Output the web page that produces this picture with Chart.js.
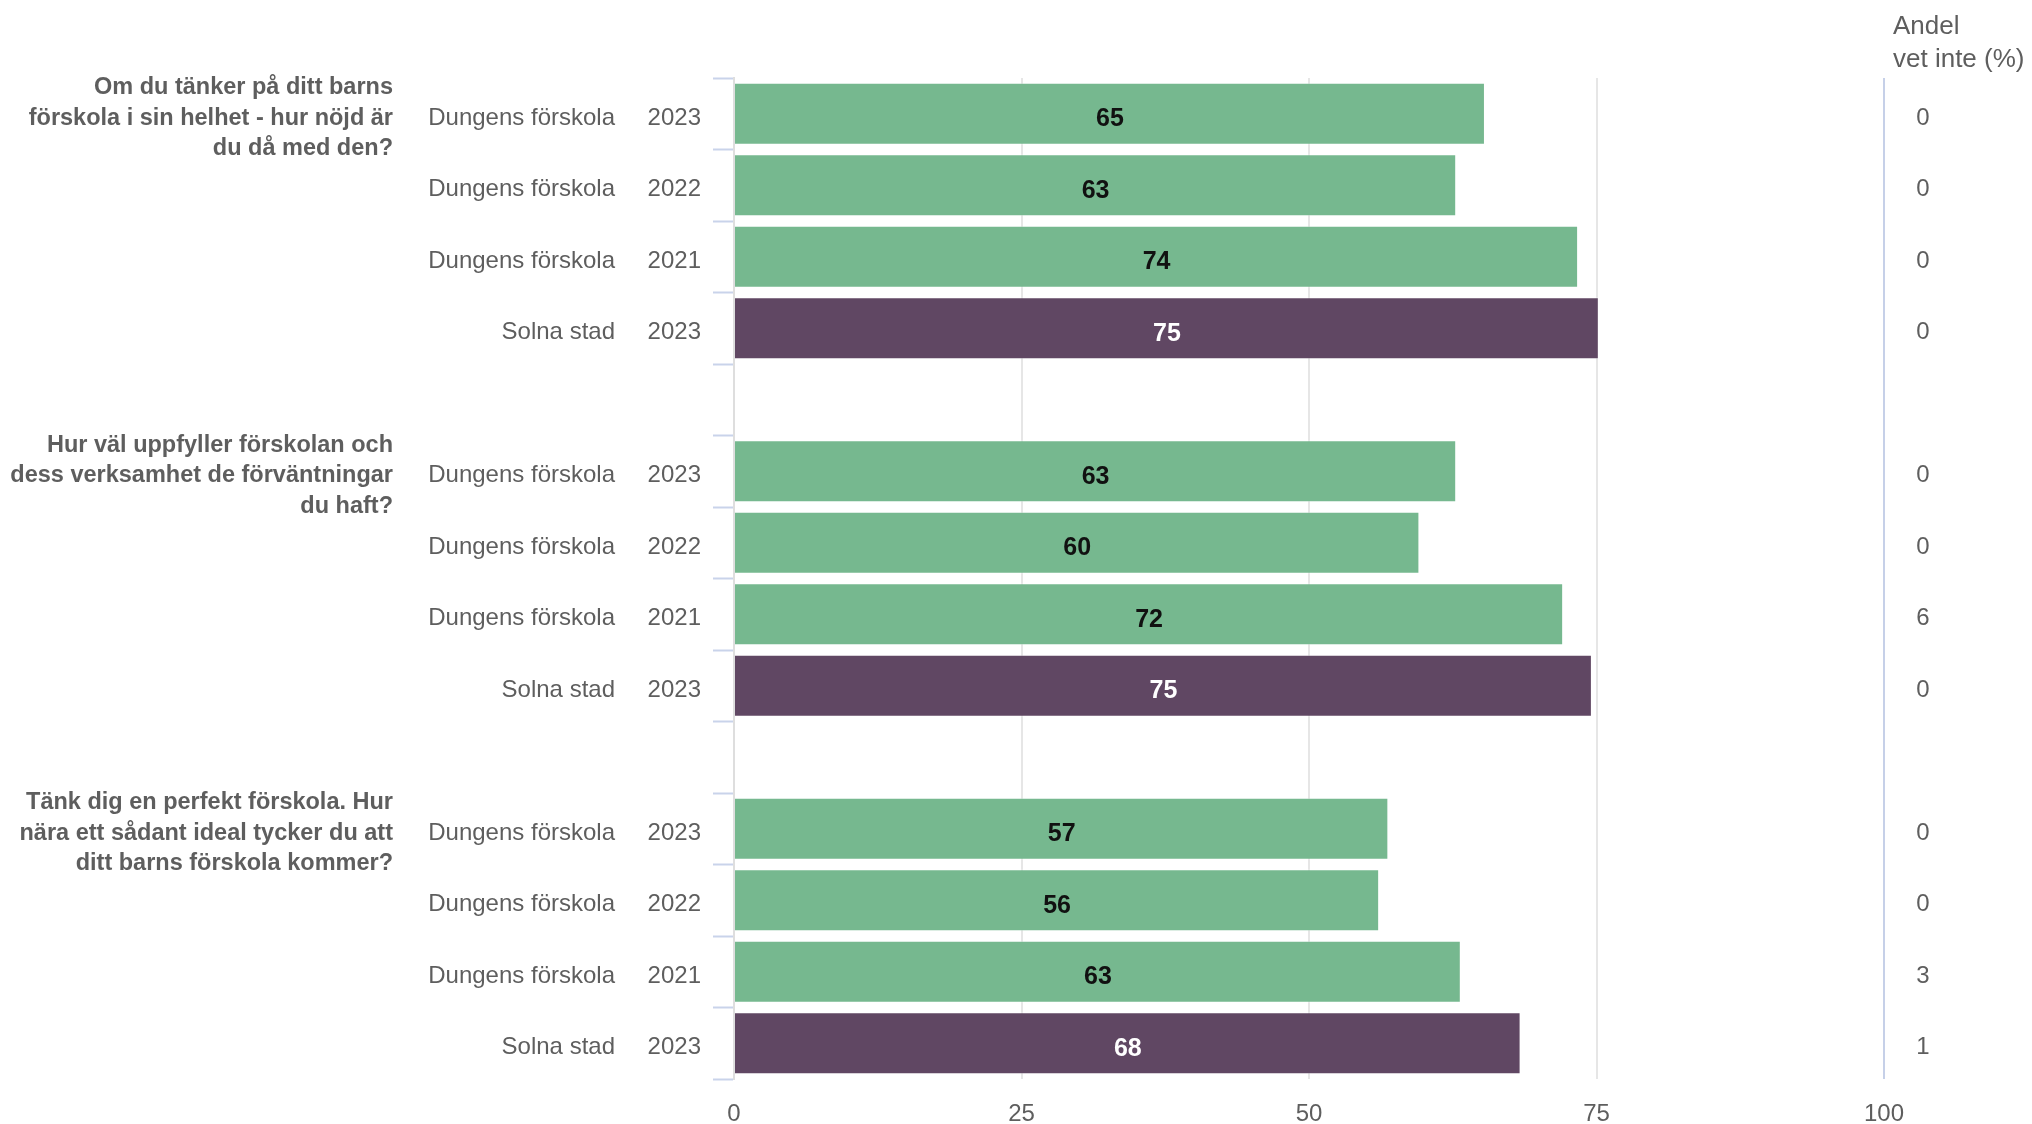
<!DOCTYPE html>
<html lang="sv">
<head>
<meta charset="utf-8">
<title>Nöjdhet förskola</title>
<script src="https://cdn.jsdelivr.net/npm/chart.js@4/dist/chart.umd.min.js"></script>
<style>
    html, body { margin: 0; padding: 0; background: #fff; }
    #wrap { width: 2032px; height: 1124px; position: relative; }
</style>
</head>
<body>
<div id="wrap"><canvas id="chart"></canvas></div>
<script>
// Data
const questions = [
    ['Om du tänker på ditt barns', 'förskola i sin helhet - hur nöjd är', 'du då med den?'],
    ['Hur väl uppfyller förskolan och', 'dess verksamhet de förväntningar', 'du haft?'],
    ['Tänk dig en perfekt förskola. Hur', 'nära ett sådant ideal tycker du att', 'ditt barns förskola kommer?']
];
const units = ['Dungens förskola', 'Dungens förskola', 'Dungens förskola', 'Solna stad'];
const years = ['2023', '2022', '2021', '2023'];
const scores = [
    [65.3, 62.8, 73.4, 75.2],
    [62.8, 59.6, 72.1, 74.6],
    [56.9, 56.1, 63.2, 68.4]
];
const scoreLabels = [
    [65, 63, 74, 75],
    [63, 60, 72, 75],
    [57, 56, 63, 68]
];
const dontKnow = [
    [0, 0, 0, 0],
    [0, 0, 6, 0],
    [0, 0, 3, 1]
];
const xTicks = [0, 25, 50, 75, 100];

const GREEN = '#76b88f';
const PURPLE = '#604763';
const TEXT = '#5e5e5e';
const FONT = '"Liberation Sans", Arial, sans-serif';

// Build rows: 4 bars per question, an empty row between questions
const rows = [];
questions.forEach((q, g) => {
    if (g > 0) rows.push(null);
    units.forEach((u, i) => {
        rows.push({ g, i, unit: u, year: years[i], value: scores[g][i], label: scoreLabels[g][i], dk: dontKnow[g][i] });
    });
});
const rowKeys = rows.map((r, idx) => 'r' + idx);
const barData = rows.map(r => r ? r.value : null);
const barColors = rows.map(r => r && units[r.i] === 'Solna stad' ? PURPLE : GREEN);

const textPlugin = {
    id: 'texts',
    afterDatasetsDraw(chart) {
        const { ctx, scales: { y } } = chart;
        const meta = chart.getDatasetMeta(0);
        ctx.save();
        ctx.textBaseline = 'middle';

        // header of right column
        ctx.fillStyle = TEXT;
        ctx.font = '26px ' + FONT;
        ctx.textAlign = 'left';
        ctx.fillText('Andel', 1893, 27);
        ctx.fillText('vet inte (%)', 1893, 60);

        rows.forEach((r, idx) => {
            if (!r) return;
            const py = y.getPixelForValue(idx) + 4.5;

            ctx.fillStyle = TEXT;
            ctx.font = '24px ' + FONT;
            ctx.textAlign = 'right';
            ctx.fillText(r.unit, 615, py);
            ctx.fillText(r.year, 701, py);

            ctx.textAlign = 'center';
            ctx.fillText(String(r.dk), 1923, py);

            // value label in the middle of the bar
            const bar = meta.data[idx];
            ctx.font = 'bold 25px ' + FONT;
            ctx.fillStyle = units[r.i] === 'Solna stad' ? '#ffffff' : '#111111';
            ctx.fillText(String(r.label), (bar.x + bar.base) / 2, py + 1);

            // question text centred on first row of its group
            if (r.i === 0) {
                ctx.font = 'bold 23.5px ' + FONT;
                ctx.fillStyle = TEXT;
                ctx.textAlign = 'right';
                questions[r.g].forEach((line, k) => {
                    ctx.fillText(line, 393, py + (k - 1) * 30.5);
                });
            }
        });
        ctx.restore();
    }
};

new Chart(document.getElementById('chart'), {
    type: 'bar',
    data: {
        labels: rowKeys,
        datasets: [{
            data: barData,
            backgroundColor: barColors,
            borderColor: 'rgba(255,255,255,0.35)',
            borderWidth: 1,
            categoryPercentage: 1,
            barPercentage: 0.87
        }]
    },
    options: {
        indexAxis: 'y',
        responsive: true,
        maintainAspectRatio: false,
        animation: false,
        layout: { padding: { top: 78, right: 148, left: 0, bottom: 0 } },
        plugins: {
            legend: { display: false },
            tooltip: { enabled: false }
        },
        scales: {
            x: {
                min: 0,
                max: 100,
                afterBuildTicks: s => { s.ticks = xTicks.map(v => ({ value: v })); },
                afterFit: s => { s.height = 45; },
                ticks: {
                    padding: 21,
                    color: TEXT,
                    font: { family: FONT, size: 24 }
                },
                grid: {
                    drawTicks: false,
                    lineWidth: 2,
                    color: c => c.tick && c.tick.value === 100 ? '#c6d0e8' : (c.tick && c.tick.value === 0 ? 'rgba(0,0,0,0)' : '#e6e6e6')
                },
                border: { display: false }
            },
            y: {
                afterFit: s => { s.width = 734; },
                ticks: { display: false, autoSkip: false },
                grid: {
                    offset: true,
                    drawOnChartArea: false,
                    drawTicks: true,
                    tickLength: 21,
                    tickWidth: 2,
                    tickColor: '#c9d3ea'
                },
                border: { display: true, color: '#dedede', width: 2 }
            }
        }
    },
    plugins: [textPlugin]
});
</script>
</body>
</html>
